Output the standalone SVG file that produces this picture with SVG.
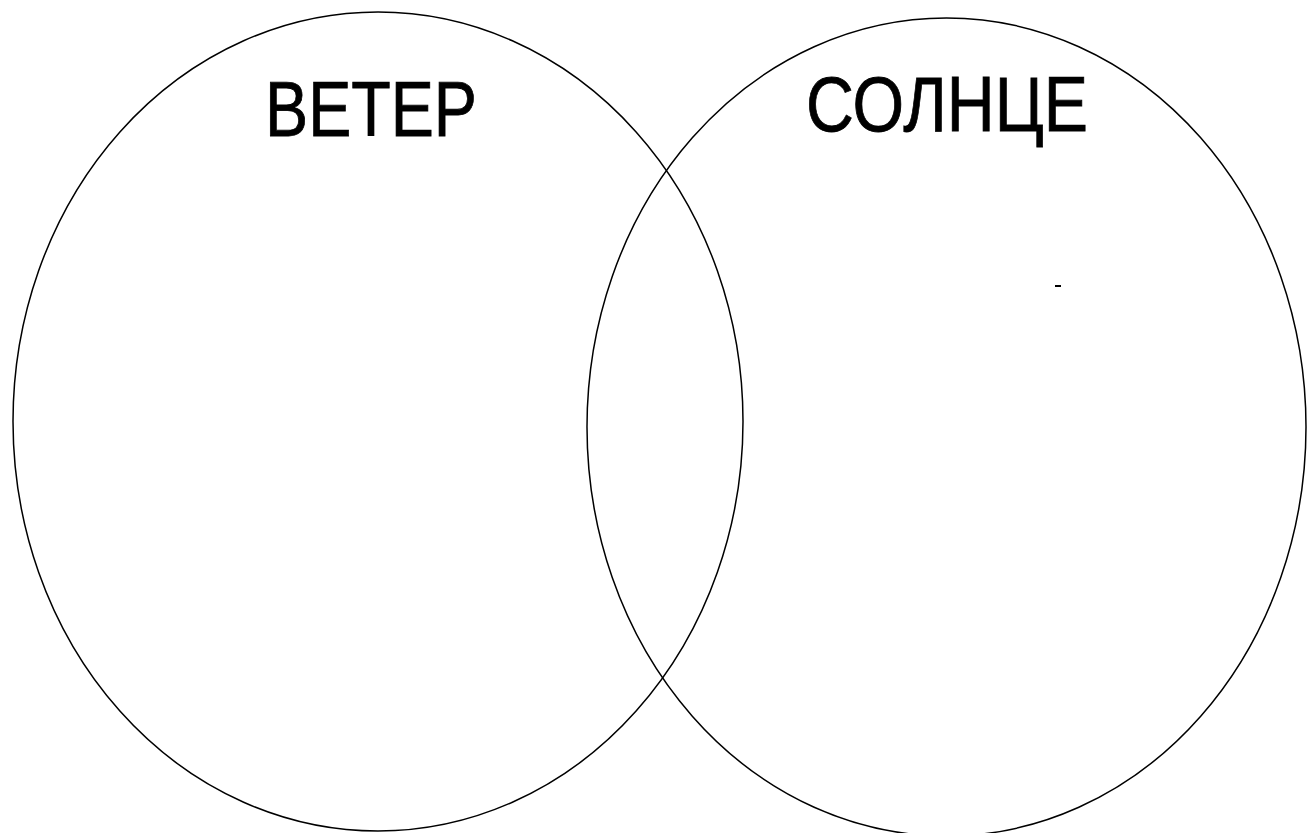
<svg xmlns="http://www.w3.org/2000/svg" width="1307" height="833" viewBox="0 0 1307 833">
<style>
.c{fill:none;stroke:#000;stroke-width:1.5}
.t{font-family:"Liberation Sans",Arial,sans-serif;font-size:77px;fill:#000;stroke:#000;stroke-width:0.8}
</style>
<rect width="1307" height="833" fill="#fff"/>
<g id="wind">
<ellipse class="c" cx="378" cy="421.5" rx="365" ry="409.5"/>
<text class="t" x="265" y="136" textLength="212" lengthAdjust="spacingAndGlyphs">ВЕТЕР</text>
</g>
<g id="sun">
<ellipse class="c" cx="946.5" cy="427" rx="359.5" ry="409"/>
<text class="t" x="806" y="131" textLength="282" lengthAdjust="spacingAndGlyphs">СОЛНЦЕ</text>
</g>
<rect x="1055" y="285" width="6" height="2" fill="#000"/>
<g id="connectors"/>
</svg>
